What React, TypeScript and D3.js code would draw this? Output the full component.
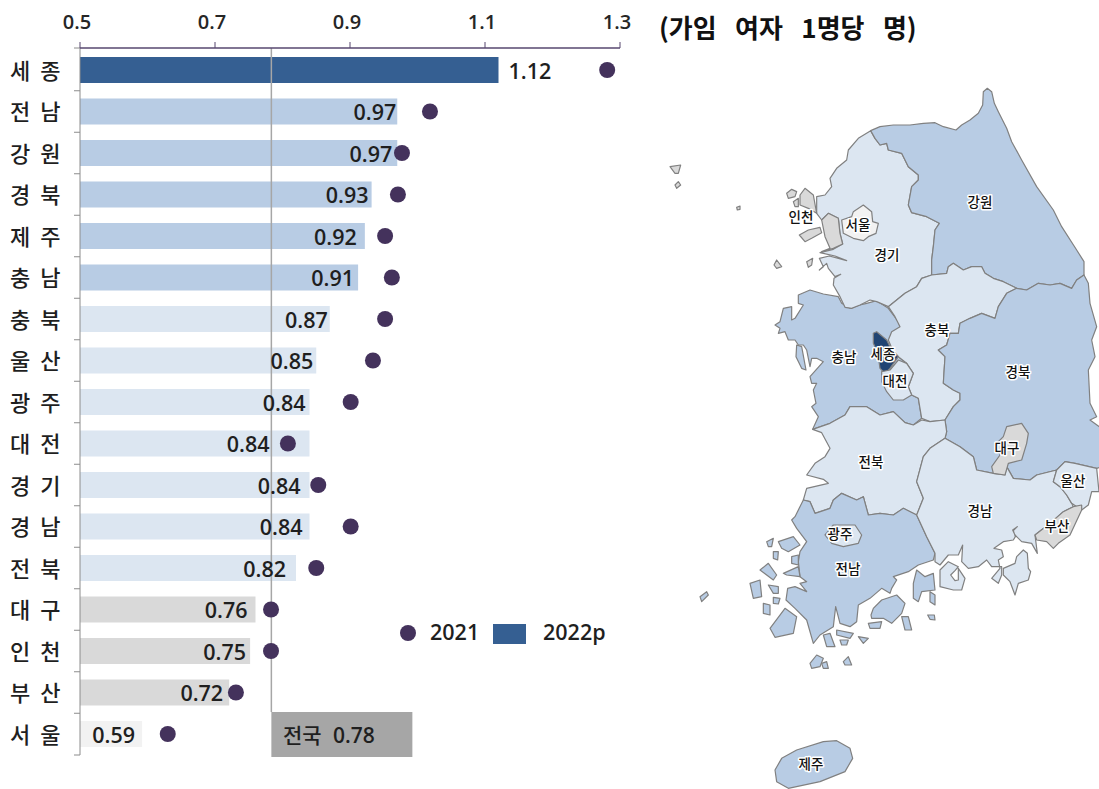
import React from "react";
import * as d3 from "d3";

const categories = ["세종","전남","강원","경북","제주","충남","충북","울산","광주","대전","경기","경남","전북","대구","인천","부산","서울"];
const values2022 = [1.12,0.97,0.97,0.932,0.922,0.912,0.87,0.85,0.84,0.84,0.84,0.84,0.82,0.76,0.752,0.721,0.592];
const labels2022 = ["1.12","0.97","0.97","0.93","0.92","0.91","0.87","0.85","0.84","0.84","0.84","0.84","0.82","0.76","0.75","0.72","0.59"];
const values2021 = [1.281,1.0185,0.977,0.971,0.952,0.962,0.952,0.934,0.901,0.808,0.853,0.901,0.85,0.783,0.783,0.731,0.63];
const xTicks = [0.5,0.7,0.9,1.1,1.3];
const nationalValue = 0.7835;
// label end offsets relative to the bar end (px)
const labelGaps = [-54,-1,-5,-3,-8,-4,-2,-3,-4,-40,-9,-7,-10,-8,-4,-6,-7];

type P = [number, number];
const south = (pts: P[]): P[] => pts.map(([x, y]) => [x, y + 1050] as P);

const gangwon: P[] = [[632,182],[660,170],[700,165],[750,165],[790,160],[825,158],[850,170],[888,180],[905,165],[930,150],[955,130],[968,105],[970,65],[982,55],[995,65],[1003,100],[1015,125],[1040,175],[1055,215],[1085,270],[1130,350],[1180,420],[1205,470],[1250,540],[1272,575],[1272,615],[1250,630],[1235,655],[1200,640],[1170,645],[1135,640],[1100,660],[1070,655],[1030,635],[1000,625],[975,610],[965,590],[935,590],[910,600],[880,580],[865,590],[860,610],[815,615],[815,570],[820,530],[825,480],[838,460],[800,440],[755,428],[745,405],[755,350],[775,330],[775,315],[745,290],[725,250],[685,240],[680,220],[660,225],[645,205]];
const gyeonggi: P[] = [[632,182],[645,205],[660,225],[680,220],[685,240],[725,250],[745,290],[775,315],[775,330],[755,350],[745,405],[755,428],[800,440],[838,460],[825,480],[820,530],[815,570],[815,615],[785,625],[770,650],[735,670],[710,690],[685,710],[650,695],[630,690],[600,705],[575,715],[555,712],[540,680],[520,645],[522,625],[542,613],[525,620],[505,595],[500,580],[478,600],[490,590],[478,565],[508,558],[560,572],[525,558],[480,548],[520,538],[548,522],[540,490],[535,445],[505,430],[485,450],[470,430],[470,380],[495,375],[515,350],[510,325],[530,295],[560,270],[565,240],[595,205]];
const incheon: P[][] = [
  [[420,375],[435,355],[460,375],[470,430],[445,415],[420,405]],
  [[380,370],[395,358],[410,365],[405,380],[385,385]],
  [[400,395],[415,385],[415,410],[405,410]],
  [[485,450],[505,430],[535,445],[540,490],[548,522],[520,535],[485,545],[510,535],[495,500]],
  [[418,495],[445,480],[480,472],[485,488],[455,505],[435,515]],
  [[30,290],[62,285],[55,310],[45,310]],
  [[45,345],[55,335],[62,345],[50,355]],
  [[342,585],[350,570],[365,590],[350,595]],
  [[440,575],[458,565],[455,585],[445,592]],
  [[230,412],[240,408],[240,418],[232,420]],
];
const seoul: P[] = [[545,450],[575,440],[580,425],[610,405],[635,425],[638,455],[655,460],[648,490],[625,500],[610,512],[580,505],[550,490]];
const chungnam: P[][] = [
  [[570,715],[600,705],[620,700],[650,692],[685,715],[715,755],[720,770],[700,800],[715,860],[740,880],[760,910],[745,950],[755,975],[775,985],[785,1045],[760,1065],[735,1058],[700,1025],[660,1035],[620,1010],[570,1010],[555,1035],[510,1060],[458,1078],[475,1040],[455,1010],[468,1000],[460,960],[470,940],[455,940],[450,920],[490,875],[470,865],[455,865],[450,890],[440,840],[430,825],[415,825],[405,810],[385,810],[375,785],[355,790],[360,775],[345,765],[360,755],[370,715],[395,710],[395,750],[405,745],[430,705],[415,700],[415,675],[450,660],[490,672],[535,680],[545,700]],
  [[410,825],[425,830],[438,900],[425,895],[408,860]],
];
const sejong: P[] = [[640,790],[650,785],[680,810],[690,830],[715,860],[690,895],[675,910],[660,895],[655,860],[635,860],[645,830],[640,820]];
const daejeon: P[] = [[665,905],[690,900],[715,870],[740,880],[760,910],[745,950],[755,975],[730,990],[700,990],[680,965],[665,935]];
const chungbuk: P[] = [[685,710],[710,690],[735,670],[770,650],[785,625],[815,615],[860,610],[865,590],[880,580],[910,600],[935,590],[965,590],[975,610],[1000,625],[1030,635],[1070,655],[1040,670],[1015,710],[1005,745],[965,730],[930,745],[900,760],[895,790],[870,790],[860,825],[835,840],[855,860],[850,940],[880,960],[900,970],[900,990],[880,1010],[855,1050],[810,1055],[785,1045],[775,985],[755,975],[745,950],[760,910],[740,880],[715,860],[700,845],[685,810],[695,785],[720,770],[705,740]];
const gyeongbuk: P[] = [[1272,615],[1285,640],[1290,700],[1310,770],[1295,810],[1305,860],[1285,900],[1290,1000],[1310,1040],[1290,1050],[1325,1075],[1325,1190],...south([[1310,145],[1245,130],[1215,125],[1190,150],[1130,165],[1110,180],[1060,175],[1040,140],[1035,165],[1000,160],[950,150],[940,110],[900,80],[855,55],[860,35]]),[855,1050],[880,1010],[900,990],[900,970],[880,960],[850,940],[855,860],[835,840],[860,825],[870,790],[895,790],[900,760],[930,745],[965,730],[1005,745],[1015,710],[1040,670],[1070,655],[1100,660],[1135,640],[1170,645],[1200,640],[1235,655],[1250,630]];
const daegu: P[] = south([[1005,75],[1030,50],[1040,20],[1085,10],[1105,40],[1100,70],[1085,120],[1045,130],[1035,165],[1000,160],[995,140],[1020,105]]);
const ulsan: P[] = south([[1190,150],[1215,125],[1245,130],[1310,145],[1317,215],[1295,215],[1285,255],[1265,270],[1235,250],[1220,225],[1200,200],[1180,185]]);
const busan: P[] = south([[1240,260],[1265,255],[1265,270],[1230,345],[1195,370],[1180,385],[1160,365],[1130,360],[1125,345],[1170,310],[1210,275]]);
const gyeongnam: P[][] = [
  south([[855,55],[900,80],[940,110],[950,150],[1000,160],[1035,165],[1040,140],[1060,175],[1110,180],[1130,165],[1190,150],[1180,185],[1200,200],[1220,225],[1235,250],[1240,260],[1210,275],[1170,310],[1125,345],[1132,400],[1115,370],[1085,365],[1065,345],[1058,330],[1072,320],[1060,332],[1066,350],[1060,360],[1030,365],[1002,385],[1025,390],[1030,410],[1015,420],[1020,445],[995,475],[1015,490],[1025,465],[1025,440],[995,440],[980,420],[955,440],[925,445],[905,425],[908,375],[895,405],[865,405],[840,435],[825,425],[825,400],[800,350],[770,285],[790,235],[770,185],[790,110],[810,85]]),
  south([[840,450],[865,425],[895,440],[885,452],[872,465],[885,482],[895,480],[895,445],[915,475],[905,510],[880,510],[840,500]]),
  south([[1030,445],[1065,430],[1070,410],[1090,390],[1102,400],[1105,445],[1112,455],[1105,480],[1075,490],[1065,525],[1050,485],[1030,465]]),
];
const jeonbuk: P[] = [[458,1078],[510,1060],[555,1035],[570,1010],[620,1010],[660,1035],[700,1025],[735,1058],[760,1065],[785,1050],[810,1055],[855,1050],...south([[860,35],[855,55],[810,85],[790,110],[770,185],[790,235],[770,285],[730,265],[700,285],[660,280],[625,285],[610,230],[590,240],[545,220],[520,240],[510,265],[465,280],[450,245],[430,240],[440,205],[505,190],[490,178],[440,165],[465,130],[495,110],[510,85],[485,38]])];
const jeonnam: P[][] = [
  south([[430,240],[450,245],[465,280],[510,265],[520,240],[545,220],[590,240],[610,230],[625,285],[660,280],[700,285],[730,265],[770,285],[800,350],[825,400],[820,420],[775,435],[745,455],[700,470],[710,480],[695,505],[690,520],[665,505],[630,535],[595,555],[590,605],[570,620],[540,610],[527,560],[520,620],[480,645],[460,670],[440,600],[405,565],[378,540],[383,505],[405,500],[440,515],[420,490],[440,485],[420,470],[415,425],[420,395],[440,365],[410,325],[395,300],[405,290]]),
  south([[633,585],[640,565],[665,540],[710,525],[735,550],[725,580],[695,610],[670,595],[635,595]]),
  south([[770,450],[795,470],[820,460],[825,510],[785,515],[775,545],[760,535],[760,490]]),
  south([[810,515],[825,525],[825,555],[810,545]]),
  south([[625,610],[665,605],[660,625],[630,625]]),
  south([[725,590],[745,590],[755,630],[735,630]]),
  south([[803,585],[823,585],[825,600],[810,598]]),
  south([[330,625],[375,565],[410,590],[400,640],[345,652]]),
  south([[320,365],[340,355],[335,380],[325,380]]),
  south([[355,365],[400,350],[420,375],[385,395],[365,385]]),
  south([[340,395],[355,395],[353,420],[340,415]]),
  south([[300,450],[325,430],[350,465],[340,480],[320,465]]),
  south([[270,490],[300,480],[305,530],[280,535]]),
  south([[325,495],[355,500],[355,520],[340,520]]),
  south([[310,550],[330,555],[330,585],[310,580]]),
  south([[340,532],[360,535],[355,552],[340,550]]),
  south([[120,530],[140,515],[145,525],[125,545]]),
  south([[395,410],[415,405],[415,435],[395,430]]),
  south([[370,460],[415,440],[420,470],[380,465]]),
  south([[490,645],[510,640],[525,680],[500,680]]),
  south([[530,630],[580,640],[570,655],[530,645]]),
  south([[540,660],[565,660],[560,675],[545,675]]),
  south([[595,650],[625,655],[610,670]]),
  south([[450,730],[470,705],[490,715],[480,740],[455,745]]),
  south([[485,730],[500,725],[505,745],[490,745]]),
  south([[550,725],[565,710],[575,735],[555,735]]),
];
const jeju: P[] = south([[345,1050],[365,1015],[410,990],[490,965],[530,962],[570,985],[578,1015],[555,1055],[480,1085],[385,1105],[350,1085]]);
const gwangju: P[] = south([[495,345],[520,315],[585,315],[605,345],[595,370],[550,380],[515,370]]);

const mapRegions: [string, P[][]][] = [
  ["충남", chungnam],["경기",[gyeonggi]],["강원",[gangwon]],["충북",[chungbuk]],["경북",[gyeongbuk]],["전북",[jeonbuk]],["전남",jeonnam],["경남",gyeongnam],
  ["제주",[jeju]],["인천",incheon],["서울",[seoul]],["세종",[sejong]],["대전",[daejeon]],["대구",[daegu]],["울산",[ulsan]],["부산",[busan]],["광주",[gwangju]],
];
const mapLabels: [string, number, number][] = [
  ["강원",980,203],["인천",801,218],["서울",858,226],["경기",887,256],["충북",937,331],["충남",844,358],["세종",883,355],["대전",895,382],["경북",1018,373],["전북",871,463],["대구",1007,449],["울산",1073,482],["경남",980,512],["부산",1057,527],["광주",840,535],["전남",848,570],["제주",811,765],
];

const W = 1099, H = 789;
const KR = "'Noto Sans CJK KR', 'Noto Sans', sans-serif";
const NUM = "'Open Sans', 'Noto Sans', sans-serif";
const INK = "#1f1f1f";

export default function App() {
  const x = d3.scaleLinear().domain([0.5, 1.3]).range([80, 620]);
  const y = d3.scaleBand<string>().domain(categories).range([49.25, 754.75]);
  const color = d3.scaleThreshold<number, string>().domain([0.6, 0.78, 0.9, 1.0]).range(["#f2f2f2","#d9d9d9","#dce6f1","#b8cce4","#355f92"]);
  const valueOf = new Map(categories.map((c, i) => [c, values2022[i]]));
  const mx = d3.scaleLinear().domain([0, 1317]).range([660, 1099]);
  const my = d3.scaleLinear().domain([0, 1080]).range([70, 430]);
  const line = d3.line<P>().x((d) => mx(d[0])).y((d) => my(d[1])).curve(d3.curveLinearClosed);
  const barH = 26;
  const offsets = categories.map((c) => y(c)! + y.bandwidth() / 2);

  return (
    <svg width={W} height={H} viewBox={`0 0 ${W} ${H}`} style={{ position: "absolute", left: 0, top: 0, background: "#fff" }}>
      {categories.map((c, i) => (
        <rect key={c} x={x(0.5)} y={offsets[i] - barH / 2} width={x(values2022[i]) - x(0.5)} height={barH} fill={color(values2022[i])} />
      ))}
      <line x1={x(nationalValue)} x2={x(nationalValue)} y1={48} y2={712} stroke="#a6a6a6" strokeWidth={1.5} />
      <rect x={x(nationalValue)} y={712} width={141} height={45} fill="#a6a6a6" />
      <text x={283} y={743} fontFamily={KR} fontSize={21} fontWeight={500} fill={INK}>전국</text>
      <text x={333} y={743} fontFamily={NUM} fontSize={21} fontWeight={600} fill={INK}>0.78</text>
      <line x1={80} x2={80} y1={48} y2={755} stroke="#8c8c8c" strokeWidth={1} />
      {d3.range(18).map((i) => {
        const py = i === 0 ? 48 : i === 17 ? 755 : y(categories[i])!;
        return <line key={i} x1={74} x2={80} y1={py} y2={py} stroke="#8c8c8c" strokeWidth={1} />;
      })}
      <line x1={80} x2={620} y1={48} y2={48} stroke="#57476f" strokeWidth={1.5} />
      {xTicks.map((t) => (
        <g key={t}>
          <line x1={x(t)} x2={x(t)} y1={42} y2={48} stroke="#57476f" strokeWidth={1} />
          <text x={x(t) - 3} y={29} textAnchor="middle" fontFamily={NUM} fontSize={20} fontWeight={600} fill="#262626">{t.toFixed(1)}</text>
        </g>
      ))}
      {categories.map((c, i) => (
        <text key={c} x={10} y={offsets[i] + 8.5} fontFamily={KR} fontSize={22} fontWeight={500} fill={INK} letterSpacing={10}>{c}</text>
      ))}
      {categories.map((c, i) => (
        <circle key={c} cx={x(values2021[i])} cy={offsets[i]} r={8} fill="#44325c" />
      ))}
      {categories.map((c, i) => (
        <text key={c} x={x(values2022[i]) + labelGaps[i]} y={offsets[i] + 8.5} textAnchor={i === 0 ? "start" : "end"} fontFamily={NUM} fontSize={21.5} fontWeight={600} fill={INK}
          dx={i === 0 ? 64 : 0}>{labels2022[i]}</text>
      ))}
      <circle cx={408} cy={633} r={8} fill="#44325c" />
      <text x={430} y={640} fontFamily={NUM} fontSize={21.5} fontWeight={600} fill={INK}>2021</text>
      <rect x={493} y={624} width={33} height={20} fill="#355f92" />
      <text x={543} y={640} fontFamily={NUM} fontSize={21.5} fontWeight={600} fill={INK}>2022p</text>
      <text x={659} y={38} fontFamily={KR} fontSize={26} fontWeight={700} wordSpacing={12.5} fill="#111">(가임 여자 1명당 명)</text>
      {mapRegions.map(([name, rings]) => {
        const v = name === "광주" ? 0.84 : valueOf.get(name)!;
        const fill = name === "세종" ? "#204473" : color(v);
        return rings.map((r, j) => (
          <path key={name + j} d={line(r)!} fill={fill} stroke="#808080" strokeWidth={1.2} strokeLinejoin="round" />
        ));
      })}
      {mapLabels.map(([t, lx, ly]) => (
        <text key={t} x={lx} y={ly} textAnchor="middle" dominantBaseline="middle" fontFamily={KR} fontSize={13.5} fontWeight={500} fill="#111"
          stroke="#fff" strokeWidth={3} paintOrder="stroke" strokeLinejoin="round">{t}</text>
      ))}
    </svg>
  );
}
